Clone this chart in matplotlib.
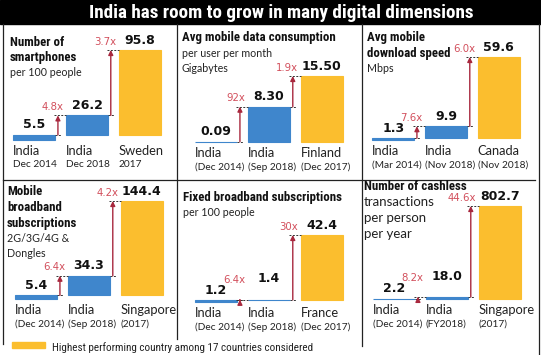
"""India digital dimensions infographic, six small step-bar panels."""
import matplotlib

matplotlib.use("Agg")
import matplotlib.pyplot as plt
from matplotlib import font_manager
from matplotlib.lines import Line2D
from matplotlib.patches import Rectangle

# ---- data -----------------------------------------------------------------
title = "India has room to grow in many digital dimensions"

panel_titles = [
    ["Number of", "smartphones"],
    ["Avg mobile data consumption"],
    ["Avg mobile", "download speed"],
    ["Mobile", "broadband", "subscriptions"],
    ["Fixed broadband subscriptions"],
    ["Number of cashless"],
]
panel_subtitles = [
    ["per 100 people"],
    ["per user per month", "Gigabytes"],
    ["Mbps"],
    ["2G/3G/4G &", "Dongles"],
    ["per 100 people"],
    ["transactions", "per person", "per year"],
]
places = [
    ["India", "India", "Sweden"],
    ["India", "India", "Finland"],
    ["India", "India", "Canada"],
    ["India", "India", "Singapore"],
    ["India", "India", "France"],
    ["India", "India", "Singapore"],
]
periods = [
    ["Dec 2014", "Dec 2018", "2017"],
    ["(Dec 2014)", "(Sep 2018)", "(Dec 2017)"],
    ["(Mar 2014)", "(Nov 2018)", "(Nov 2018)"],
    ["(Dec 2014)", "(Sep 2018)", "(2017)"],
    ["(Dec 2014)", "(Sep 2018)", "(Dec 2017)"],
    ["(Dec 2014)", "(FY2018)", "(2017)"],
]
values = [
    [5.5, 26.2, 95.8],
    [0.09, 8.30, 15.50],
    [1.3, 9.9, 59.6],
    [5.4, 34.3, 144.4],
    [1.2, 1.4, 42.4],
    [2.2, 18.0, 802.7],
]
decimals = [1, 2, 1, 1, 1, 1]
growth = [
    ["4.8x", "3.7x"],
    ["92x", "1.9x"],
    ["7.6x", "6.0x"],
    ["6.4x", "4.2x"],
    ["6.4x", "30x"],
    ["8.2x", "44.6x"],
]
legend_text = "Highest performing country among 17 countries considered"

# ---- style ----------------------------------------------------------------
BLUE = "#3f86cc"
GOLD = "#fbbe2e"
ARROW = "#a8283e"
MULT = "#d24f5c"
LINE = "#222222"

names = {f.name for f in font_manager.fontManager.ttflist}


def pick(*cands):
    return next((c for c in cands if c in names), "DejaVu Sans")


NARROW = pick("Roboto Condensed", "Liberation Sans Narrow", "Open Sans Condensed")
BODY = pick("Lato", "Open Sans", "Noto Sans")

W, H = 541, 355
fig = plt.figure(figsize=(W / 100, H / 100), dpi=100)


def fx(x):
    return x / W


def fy(y):
    return 1 - y / H


# title band
fig.patches.append(Rectangle((0, fy(24)), 1, 24 / H, transform=fig.transFigure,
                             color="black", zorder=0))
fig.text(fx(281), fy(12.5), title, color="white", family=NARROW, weight="bold",
         fontsize=13.8, ha="center", va="center")

# frame lines
for x0, y0, x1, y1 in [(2.5, 24, 2.5, 344), (539, 24, 539, 355),
                       (177, 24, 177, 339), (362, 24, 362, 346),
                       (2.5, 180, 535, 180)]:
    fig.lines.append(Line2D([fx(x0), fx(x1)], [fy(y0), fy(y1)],
                            transform=fig.transFigure, color=LINE, lw=0.9))

# panel layout (pixels)
bar_left = [13, 195, 372, 15, 195, 373]
bar_base = [140, 142, 140, 299, 302, 299]
bar_top = [50, 76, 57, 201, 235, 206]
text_x = [10, 182, 367, 7, 183, 364]
text_y0 = [42, 38, 38, 192, 197, 186]
BAR_W = 148
PT = 0.72  # points per pixel at dpi 100

for p in range(6):
    # headings
    y = text_y0[p]
    for line in panel_titles[p]:
        fig.text(fx(text_x[p]), fy(y), line, family=NARROW, weight="bold",
                 fontsize=9.3, ha="left", va="center", color="#111111")
        y += 15.5
    for line in panel_subtitles[p]:
        size = 9.5 if p == 5 else 7.7
        fig.text(fx(text_x[p]), fy(y), line, family=BODY, fontsize=size,
                 ha="left", va="center", color="#222222")
        y += 16 if p == 5 else 15

    v = values[p]
    ax = fig.add_axes([fx(bar_left[p]), fy(bar_base[p]), BAR_W / W,
                       (bar_base[p] - bar_top[p]) / H])
    ax.set_xlim(-0.4, 2.4)
    ax.set_ylim(0, v[2])
    ax.axis("off")

    ax.bar([0, 1, 2], [v[0], v[1] - v[0], v[2] - v[0]], bottom=[0, v[0], v[0]],
           width=0.8, color=[BLUE, BLUE, GOLD], edgecolor=[BLUE, BLUE, GOLD],
           linewidth=0.8, clip_on=False)

    # when two levels sit closer than a line of text, lift the upper labels
    py = [ax.transData.transform((0, val))[1] for val in v]
    lift = [0, max(0, py[0] + 12 - py[1]) * PT, max(0, py[1] + 12 - py[2]) * PT]

    for i in range(3):
        ax.annotate(f"{v[i]:.{decimals[p]}f}", (i, v[i]), xytext=(0, 2.5 + lift[i]),
                    textcoords="offset points", ha="center", va="bottom",
                    fontsize=9, weight="bold", color="#111111",
                    annotation_clip=False)
        ax.annotate(places[p][i], (i - 0.4, 0), xytext=(0, -3.5),
                    textcoords="offset points", ha="left", va="top",
                    family=BODY, fontsize=9.3, color="#222222",
                    annotation_clip=False)
        ax.annotate(periods[p][i], (i - 0.4, 0), xytext=(0, -14.5),
                    textcoords="offset points", ha="left", va="top",
                    family=BODY, fontsize=7.3, color="#222222",
                    annotation_clip=False)

    for i in range(2):
        xa = i + 0.45
        ax.plot([i + 0.4, xa + 0.06], [v[i], v[i]], ls=(0, (2, 1.5)),
                color="#333333", lw=0.7, clip_on=False)
        ax.plot([xa - 0.08, i + 0.6], [v[i + 1], v[i + 1]], ls=(0, (2, 1.5)),
                color="#333333", lw=0.7, clip_on=False)
        ax.annotate("", xy=(xa, v[i + 1]), xytext=(xa, v[i]),
                    arrowprops=dict(arrowstyle="-|>", color=ARROW, lw=1,
                                    mutation_scale=7, shrinkA=0, shrinkB=0),
                    annotation_clip=False)
        ax.annotate(growth[p][i], (xa, v[i + 1]), xytext=(4, 2.5 + lift[i + 1]),
                    textcoords="offset points", ha="right", va="bottom",
                    fontsize=7.3, color=MULT, annotation_clip=False)

# legend strip
fig.patches.append(Rectangle((fx(12), fy(348)), 33 / W, 6 / H,
                             transform=fig.transFigure, color=GOLD))
fig.text(fx(52), fy(348), legend_text, family=NARROW, fontsize=8,
         ha="left", va="center", color="#222222")

fig.savefig("out.png", dpi=100)
